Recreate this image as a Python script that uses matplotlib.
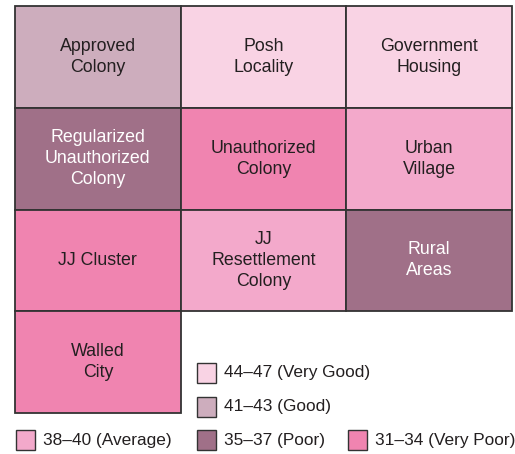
import matplotlib.pyplot as plt
from matplotlib.patches import Rectangle

plt.rcParams['font.family'] = ['Liberation Sans', 'DejaVu Sans']

# tiles, row by row (3 columns)
areas = ["Approved\nColony", "Posh\nLocality", "Government\nHousing",
         "Regularized\nUnauthorized\nColony", "Unauthorized\nColony", "Urban\nVillage",
         "JJ Cluster", "JJ\nResettlement\nColony", "Rural\nAreas",
         "Walled\nCity"]
grades = [1, 0, 0,
          3, 4, 2,
          4, 2, 3,
          4]

grade_labels = ["44\u201347 (Very Good)", "41\u201343 (Good)", "38\u201340 (Average)",
                "35\u201337 (Poor)", "31\u201334 (Very Poor)"]
grade_colors = ["#F9D3E4", "#CDADBD", "#F3A9CB", "#A07088", "#F084B0"]
text_colors = ["#231F20", "#231F20", "#231F20", "white", "#231F20"]

W, H = 515, 454
fig = plt.figure(figsize=(W / 100, H / 100), dpi=100)
ax = fig.add_axes([15 / W, (H - 413) / H, (512 - 15) / W, (413 - 6) / H])
ax.set_xlim(0, 3)
ax.set_ylim(4, 0)
ax.axis('off')

edge = "#333333"
for i, (name, g) in enumerate(zip(areas, grades)):
    c, r = i % 3, i // 3
    ax.add_patch(Rectangle((c, r), 1, 1, facecolor=grade_colors[g],
                           edgecolor=edge, linewidth=1.3, clip_on=False))
    ax.text(c + 0.5, r + 0.5, name, ha='center', va='center', fontsize=12.8,
            color=text_colors[g], linespacing=1.32)

# legend (manual, in pixel positions)
legend_pos = [(197, 373), (197, 407), (16, 440), (197, 440), (348, 440)]
for (px, py), lab, col in zip(legend_pos, grade_labels, grade_colors):
    fig.patches.append(Rectangle((px / W, (H - py - 10) / H), 19 / W, 20 / H,
                                 transform=fig.transFigure, facecolor=col,
                                 edgecolor=edge, linewidth=1.0))
    fig.text((px + 27) / W, (H - py) / H, lab, ha='left', va='center',
             fontsize=12.4, color="#231F20")

fig.savefig("out.png", dpi=100)
